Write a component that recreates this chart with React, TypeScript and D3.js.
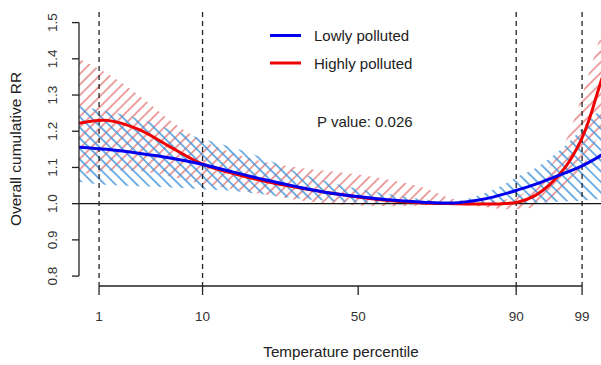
import React from "react";
import * as d3 from "d3";

// Temperature grid (°C) and series
const temps = [-4.77, -3, -1, 1, 3, 5, 7, 9, 11, 13, 15, 17, 19, 21, 22, 23, 24, 25, 26, 27, 27.5, 28, 28.5];

const lowFit = [1.156, 1.15, 1.139, 1.126, 1.109, 1.087, 1.066, 1.047, 1.03, 1.019, 1.01, 1.004, 1.002, 1.014, 1.025, 1.038, 1.052, 1.068, 1.085, 1.103, 1.114, 1.126, 1.14];
const lowUpper = [1.27, 1.255, 1.235, 1.205, 1.18, 1.155, 1.125, 1.088, 1.06, 1.04, 1.025, 1.012, 1.006, 1.03, 1.05, 1.075, 1.095, 1.125, 1.16, 1.205, 1.228, 1.25, 1.27];
const lowLower = [1.06, 1.052, 1.048, 1.045, 1.04, 1.035, 1.025, 1.015, 1.008, 1.003, 0.999, 0.997, 0.998, 0.998, 0.998, 1.0, 1.002, 1.004, 1.006, 1.008, 1.01, 1.012, 1.014];

const highFit = [1.222, 1.23, 1.205, 1.157, 1.11, 1.083, 1.062, 1.045, 1.03, 1.018, 1.008, 1.002, 1.0, 0.999, 1.0, 1.004, 1.02, 1.052, 1.1, 1.175, 1.23, 1.3, 1.37];
const highUpper = [1.4, 1.36, 1.3, 1.23, 1.175, 1.14, 1.115, 1.1, 1.09, 1.08, 1.065, 1.045, 1.012, 1.008, 1.01, 1.02, 1.05, 1.1, 1.17, 1.29, 1.36, 1.43, 1.5];
const highLower = [1.08, 1.09, 1.09, 1.075, 1.055, 1.04, 1.025, 1.01, 1.0, 0.995, 0.993, 0.995, 0.998, 0.99, 0.985, 0.985, 0.99, 1.01, 1.04, 1.09, 1.13, 1.18, 1.24];

// Percentile ticks and their temperatures
const pctLabels = ["1", "10", "50", "90", "99"];
const pctTemps = [-3.5, 3.05, 12.9, 22.9, 27.07];
const dashedPct = ["1", "10", "90", "99"];

const yTicks = [0.8, 0.9, 1.0, 1.1, 1.2, 1.3, 1.4, 1.5];

const legendLabels = ["Lowly polluted", "Highly polluted"];
const legendColors = ["#0000ee", "#ee0000"];
const pValueText = "P value: 0.026";

const W = 601;
const H = 365;
const FONT = "'Liberation Sans', Arial, Helvetica, sans-serif";

export default function App() {
  const x = d3.scaleLinear().domain([-4.77, 29]).range([79, 79 + 33.77 * 15.8]);
  const y = d3.scaleLinear().domain([0.8, 1.5]).range([276.1, 22.6]);
  const curve = d3.curveCatmullRom.alpha(0.5);

  const line = (vals: number[]) =>
    d3
      .line<number>()
      .x((_, i) => x(temps[i]))
      .y((v) => y(v))
      .curve(curve)(vals) as string;

  const area = (lo: number[], hi: number[]) =>
    d3
      .area<number>()
      .x((_, i) => x(temps[i]))
      .y0((_, i) => y(lo[i]))
      .y1((_, i) => y(hi[i]))
      .curve(curve)(lo) as string;

  const x0 = 79;
  const axisY = 286;

  return (
    <svg
      width={W}
      height={H}
      style={{ position: "absolute", left: 0, top: 0, background: "#fff" }}
      fontFamily={FONT}
    >
      <defs>
        <pattern id="hatchBlue" patternUnits="userSpaceOnUse" width={7.5} height={7.5} patternTransform="rotate(-45)">
          <line x1={3.75} y1={0} x2={3.75} y2={7.5} stroke="#3f94dc" strokeWidth={1.45} />
        </pattern>
        <pattern id="hatchRed" patternUnits="userSpaceOnUse" width={7.5} height={7.5} patternTransform="rotate(45)">
          <line x1={3.75} y1={0} x2={3.75} y2={7.5} stroke="#e47a7a" strokeWidth={1.4} />
        </pattern>
        <clipPath id="plotClip">
          <rect x={x0} y={0} width={W - x0} height={axisY} />
        </clipPath>
      </defs>

      {/* confidence bands */}
      <g clipPath="url(#plotClip)">
        <path d={area(highLower, highUpper)} fill="url(#hatchRed)" />
        <path d={area(lowLower, lowUpper)} fill="url(#hatchBlue)" />
      </g>

      {/* reference line at RR = 1 */}
      <line x1={x0} x2={W} y1={y(1)} y2={y(1)} stroke="#111" strokeWidth={1.1} />

      {/* dashed percentile lines */}
      {dashedPct.map((p) => {
        const t = pctTemps[pctLabels.indexOf(p)];
        return (
          <line
            key={p}
            x1={x(t)}
            x2={x(t)}
            y1={12}
            y2={axisY}
            stroke="#222"
            strokeWidth={1.3}
            strokeDasharray="5,4"
          />
        );
      })}

      {/* fitted curves */}
      <g clipPath="url(#plotClip)">
        <path d={line(highFit)} fill="none" stroke={legendColors[1]} strokeWidth={3} />
        <path d={line(lowFit)} fill="none" stroke={legendColors[0]} strokeWidth={3} />
      </g>

      {/* y axis */}
      <line x1={x0} x2={x0} y1={y(1.5)} y2={y(0.8)} stroke="#222" strokeWidth={1.3} />
      {yTicks.map((v) => (
        <g key={v}>
          <line x1={x0 - 7} x2={x0} y1={y(v)} y2={y(v)} stroke="#222" strokeWidth={1.3} />
          <text
            transform={`translate(57,${y(v)}) rotate(-90)`}
            textAnchor="middle"
            fontSize={13.5}
            fill="#333"
          >
            {v.toFixed(1)}
          </text>
        </g>
      ))}
      <text
        transform={`translate(21,149) rotate(-90)`}
        textAnchor="middle"
        fontSize={15.5}
        fill="#222"
      >
        Overall cumulative RR
      </text>

      {/* x axis */}
      <line
        x1={x(pctTemps[0])}
        x2={x(pctTemps[pctTemps.length - 1])}
        y1={axisY}
        y2={axisY}
        stroke="#222"
        strokeWidth={1.3}
      />
      {pctLabels.map((p, i) => (
        <g key={p}>
          <line x1={x(pctTemps[i])} x2={x(pctTemps[i])} y1={axisY} y2={axisY + 9} stroke="#222" strokeWidth={1.3} />
          <text x={x(pctTemps[i])} y={320.5} textAnchor="middle" fontSize={13.5} fill="#333">
            {p}
          </text>
        </g>
      ))}
      <text x={341} y={357} textAnchor="middle" fontSize={15.2} fill="#222">
        Temperature percentile
      </text>

      {/* legend */}
      {legendLabels.map((lab, i) => (
        <g key={lab}>
          <line x1={270} x2={301} y1={35.5 + i * 27.5} y2={35.5 + i * 27.5} stroke={legendColors[i]} strokeWidth={3} />
          <text x={314} y={41 + i * 27.5} fontSize={15} fill="#222">
            {lab}
          </text>
        </g>
      ))}
      <text x={317} y={127} fontSize={15} fill="#222">
        {pValueText}
      </text>
    </svg>
  );
}
